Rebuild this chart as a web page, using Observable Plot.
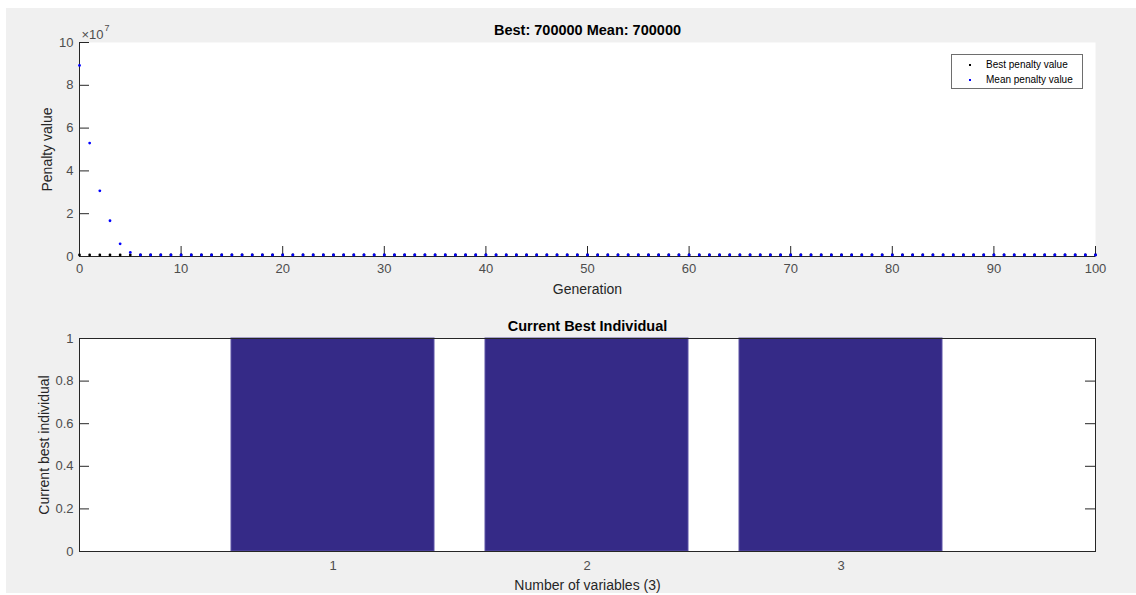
<!DOCTYPE html>
<html><head><meta charset="utf-8">
<script src="https://cdn.jsdelivr.net/npm/d3@7"></script>
<script src="https://cdn.jsdelivr.net/npm/@observablehq/plot@0.6"></script>
<style>
body{margin:0;background:#fff;font-family:"Liberation Sans",Arial,sans-serif}
#fig{position:relative;width:1136px;height:595px;overflow:hidden}
#bg{position:absolute;left:6px;top:8px;width:1130px;height:585px;background:#f0f0f0}
.panel{position:absolute;left:0}
#legend{position:absolute;left:951px;top:54px;width:130px;height:33px;border:1px solid #6e6e6e;background:#fff;font-size:10px;color:#000}
#legend .row{position:absolute;left:0;height:14px;line-height:14px}
#legend .mk{position:absolute;left:17px;top:6px;width:2px;height:2px}
#legend .lb{position:absolute;left:34px;top:0;white-space:nowrap}
</style></head>
<body>
<div id="fig"><div id="bg"></div><div id="top" class="panel" style="top:0"></div><div id="bottom" class="panel" style="top:300px"></div><div id="legend"></div></div>
<script>
// ---- data ----
const generations = d3.range(0, 101);
const bestPenalty = [
  700000, 700000, 700000, 700000, 700000, 700000, 700000, 700000, 700000, 700000,
  700000, 700000, 700000, 700000, 700000, 700000, 700000, 700000, 700000, 700000,
  700000, 700000, 700000, 700000, 700000, 700000, 700000, 700000, 700000, 700000,
  700000, 700000, 700000, 700000, 700000, 700000, 700000, 700000, 700000, 700000,
  700000, 700000, 700000, 700000, 700000, 700000, 700000, 700000, 700000, 700000,
  700000, 700000, 700000, 700000, 700000, 700000, 700000, 700000, 700000, 700000,
  700000, 700000, 700000, 700000, 700000, 700000, 700000, 700000, 700000, 700000,
  700000, 700000, 700000, 700000, 700000, 700000, 700000, 700000, 700000, 700000,
  700000, 700000, 700000, 700000, 700000, 700000, 700000, 700000, 700000, 700000,
  700000, 700000, 700000, 700000, 700000, 700000, 700000, 700000, 700000, 700000,
  700000
];
const meanPenalty = [
  89300000, 53000000, 30700000, 16700000, 5900000, 1900000, 700000, 700000, 700000, 700000,
  700000, 700000, 700000, 700000, 700000, 700000, 700000, 700000, 700000, 700000,
  700000, 700000, 700000, 700000, 700000, 700000, 700000, 700000, 700000, 700000,
  700000, 700000, 700000, 700000, 700000, 700000, 700000, 700000, 700000, 700000,
  700000, 700000, 700000, 700000, 700000, 700000, 700000, 700000, 700000, 700000,
  700000, 700000, 700000, 700000, 700000, 700000, 700000, 700000, 700000, 700000,
  700000, 700000, 700000, 700000, 700000, 700000, 700000, 700000, 700000, 700000,
  700000, 700000, 700000, 700000, 700000, 700000, 700000, 700000, 700000, 700000,
  700000, 700000, 700000, 700000, 700000, 700000, 700000, 700000, 700000, 700000,
  700000, 700000, 700000, 700000, 700000, 700000, 700000, 700000, 700000, 700000,
  700000
];
const xTicksTop = [0, 10, 20, 30, 40, 50, 60, 70, 80, 90, 100];
const yTicksTop = [0, 20000000, 40000000, 60000000, 80000000, 100000000];
const topTitle = "Best: 700000 Mean: 700000";
const legendLabels = ["Best penalty value", "Mean penalty value"];
const legendColors = ["#000000", "#0000ff"];

const variables = ["1", "2", "3"];
const bestIndividual = [1, 1, 1];
const yTicksBottom = [0, 0.2, 0.4, 0.6, 0.8, 1];
const bottomTitle = "Current Best Individual";

// ---- tables ----
const penalty = generations.map((g, i) => ({gen: g, best: bestPenalty[i], mean: meanPenalty[i]}));
const individual = variables.map((v, i) => ({variable: v, value: bestIndividual[i]}));

const axisColor = "#262626";
const tickText = "#4d4d4d";
const font = "'Liberation Sans', Arial, sans-serif";

const topPlot = Plot.plot({
  width: 1136, height: 300,
  marginTop: 42, marginBottom: 44, marginLeft: 79, marginRight: 41,
  style: {background: "transparent", fontFamily: font, fontSize: "13px", color: tickText},
  x: {domain: [0, 100], label: null},
  y: {domain: [0, 100000000], label: null},
  marks: [
    Plot.frame({fill: "white", stroke: null}),
    Plot.ruleX(xTicksTop, {x: d => d, insetTop: 204, stroke: axisColor}),
    Plot.ruleY(yTicksTop, {y: d => d, insetRight: 1006, stroke: axisColor}),
    Plot.ruleY([0], {stroke: axisColor}),
    Plot.ruleX([0], {stroke: axisColor}),
    Plot.axisX(xTicksTop, {tickSize: 0, tickPadding: 7, label: null, fill: tickText, fontSize: 13}),
    Plot.axisY(yTicksTop, {tickSize: 0, tickPadding: 6, label: null, fill: tickText, fontSize: 13, tickFormat: d => String(d / 1e7)}),
    Plot.dot(penalty, {x: "gen", y: "best", r: 1.4, fill: legendColors[0], stroke: null}),
    Plot.dot(penalty, {x: "gen", y: "mean", r: 1.4, fill: legendColors[1], stroke: null}),
    Plot.text([topTitle], {frameAnchor: "top", textAnchor: "middle", lineAnchor: "middle", dy: -12, fontWeight: "bold", fill: "#000", fontSize: 14.5}),
    Plot.text(["×10"], {frameAnchor: "top-left", textAnchor: "start", lineAnchor: "middle", dx: 2, dy: -8, fill: tickText, fontSize: 13}),
    Plot.text(["7"], {frameAnchor: "top-left", textAnchor: "start", lineAnchor: "middle", dx: 25, dy: -14, fill: tickText, fontSize: 9}),
    Plot.text(["Generation"], {frameAnchor: "bottom", textAnchor: "middle", lineAnchor: "middle", dy: 33, fill: "#262626", fontSize: 14}),
    Plot.text(["Penalty value"], {frameAnchor: "left", textAnchor: "middle", lineAnchor: "middle", rotate: -90, dx: -32, fill: "#262626", fontSize: 14})
  ]
});
document.getElementById("top").appendChild(topPlot);

const bottomPlot = Plot.plot({
  width: 1136, height: 295,
  marginTop: 38, marginBottom: 44, marginLeft: 79, marginRight: 41,
  style: {background: "transparent", fontFamily: font, fontSize: "13px", color: tickText},
  x: {type: "band", domain: variables, paddingInner: 0.2, paddingOuter: 0.6, label: null},
  y: {domain: [0, 1], label: null},
  marks: [
    Plot.frame({fill: "white", stroke: null}),
    Plot.barY(individual, {x: "variable", y: "value", fill: "#352a87", stroke: "#5c53a6", strokeWidth: 1}),
    Plot.ruleY(yTicksBottom, {y: d => d, insetRight: 1006, stroke: axisColor}),
    Plot.ruleY(yTicksBottom, {y: d => d, insetLeft: 1006, stroke: axisColor}),
    Plot.frame({stroke: axisColor, fill: null}),
    Plot.axisX({tickSize: 0, tickPadding: 9, label: null, fill: tickText, fontSize: 13}),
    Plot.axisY(yTicksBottom, {tickSize: 0, tickPadding: 6, label: null, fill: tickText, fontSize: 13, tickFormat: d => String(d)}),
    Plot.text([bottomTitle], {frameAnchor: "top", textAnchor: "middle", lineAnchor: "middle", dy: -12, fontWeight: "bold", fill: "#000", fontSize: 14.5}),
    Plot.text(["Number of variables (3)"], {frameAnchor: "bottom", textAnchor: "middle", lineAnchor: "middle", dy: 34, fill: "#262626", fontSize: 14}),
    Plot.text(["Current best individual"], {frameAnchor: "left", textAnchor: "middle", lineAnchor: "middle", rotate: -90, dx: -35, fill: "#262626", fontSize: 14})
  ]
});
document.getElementById("bottom").appendChild(bottomPlot);

// legend
const legend = document.getElementById("legend");
legendLabels.forEach((lab, i) => {
  const row = document.createElement("div");
  row.className = "row";
  row.style.top = (3 + i * 15) + "px";
  row.style.width = "100%";
  const mk = document.createElement("div");
  mk.className = "mk";
  mk.style.background = legendColors[i];
  const lb = document.createElement("div");
  lb.className = "lb";
  lb.textContent = lab;
  row.appendChild(mk); row.appendChild(lb);
  legend.appendChild(row);
});
</script>
</body></html>
